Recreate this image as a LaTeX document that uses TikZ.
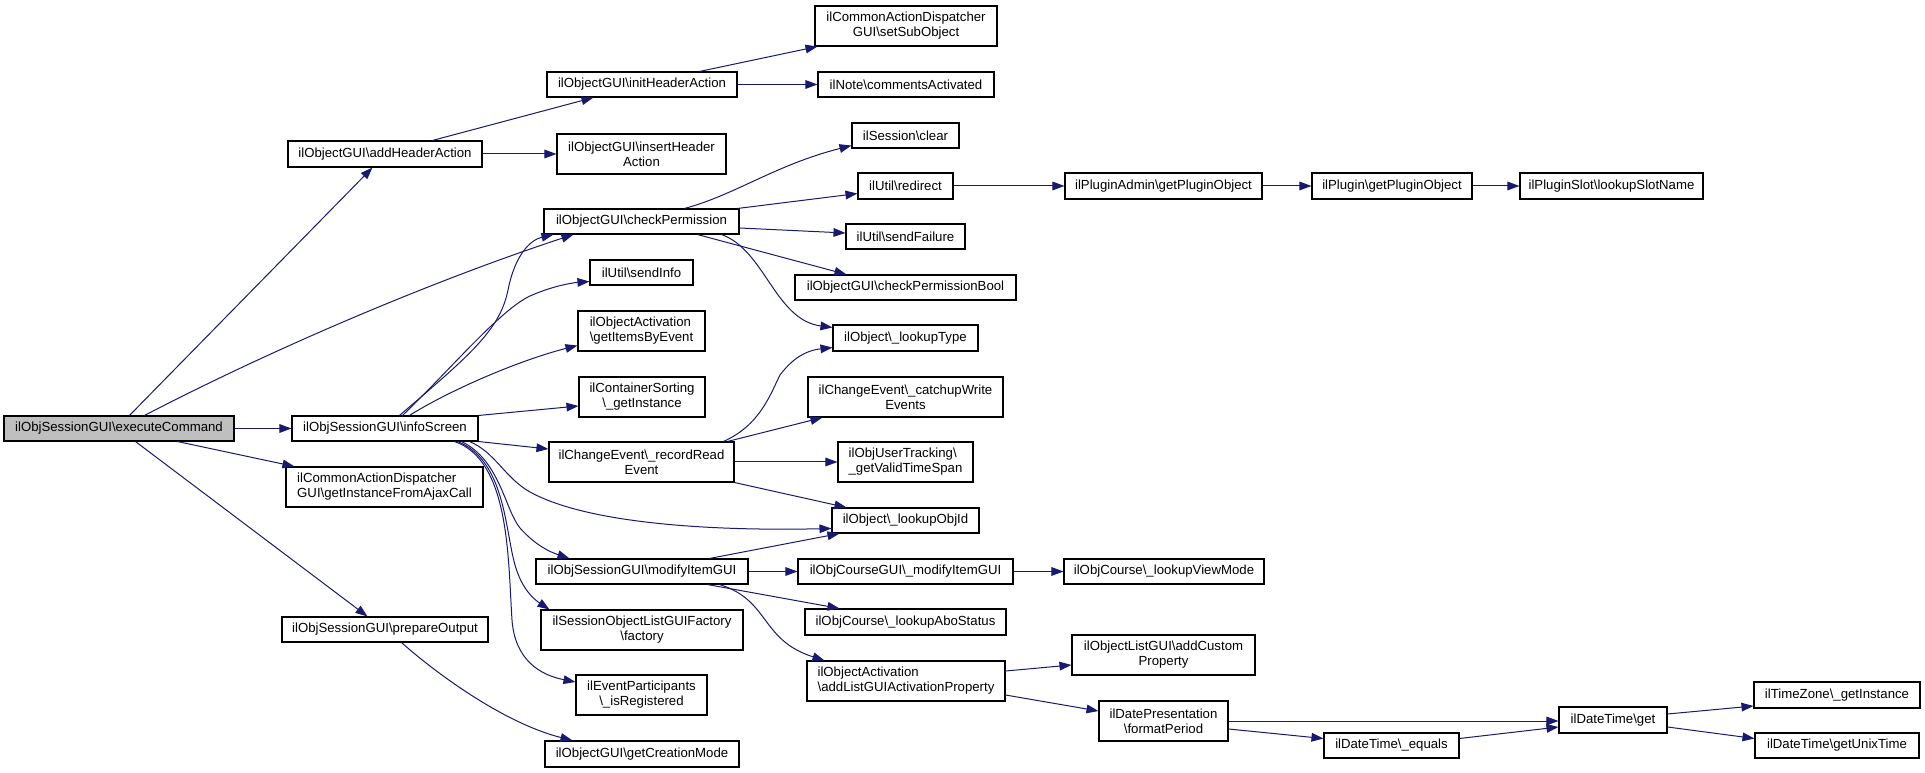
\documentclass[tikz,border=0pt]{standalone}
\usepackage{fontspec}
\setmainfont{Liberation Sans}
\usetikzlibrary{calc,arrows.meta}
\definecolor{edgeblue}{RGB}{25,25,112}
\definecolor{startgray}{RGB}{191,191,191}
\newcommand{\BSL}{\textbackslash{}}
\tikzset{
  box/.style={draw=black, line width=0.8pt, fill=white, inner sep=0pt, align=center,
    font=\fontsize{9.9pt}{11.3pt}\selectfont},
  sz/.style 2 args={minimum width=#1*0.75pt, minimum height=#2*0.75pt},
  call/.style={draw=edgeblue, line width=0.75pt, -{Triangle[length=9pt,width=6.5pt]}},
}
\begin{document}
\begin{tikzpicture}[x=0.75pt,y=-0.75pt]
\useasboundingbox (0,0) rectangle (1925,773);
% column 1
\node[box, sz={230}{25}, fill=startgray] (exec) at (119,428.5) {ilObjSessionGUI\BSL executeCommand};
% column 2
\node[box, sz={194}{26}] (addH) at (385,154) {ilObjectGUI\BSL addHeaderAction};
\node[box, sz={186}{25}] (info) at (385,428.5) {ilObjSessionGUI\BSL infoScreen};
\node[box, sz={197}{40}, align=left] (ajax) at (384.5,487) {ilCommonActionDispatcher\\GUI\BSL getInstanceFromAjaxCall};
\node[box, sz={206}{25}] (prep) at (385,629.5) {ilObjSessionGUI\BSL prepareOutput};
% column 3
\node[box, sz={190}{25}] (initH) at (642,84.5) {ilObjectGUI\BSL initHeaderAction};
\node[box, sz={169}{40}] (insH) at (641.5,154) {ilObjectGUI\BSL insertHeader\\Action};
\node[box, sz={195}{25}] (checkP) at (641.5,221.5) {ilObjectGUI\BSL checkPermission};
\node[box, sz={103}{25}] (sendInfo) at (641.5,272.5) {ilUtil\BSL sendInfo};
\node[box, sz={127}{40}, align=left] (items) at (641.5,331) {ilObjectActivation\\\BSL getItemsByEvent};
\node[box, sz={126}{40}] (contSort) at (642,397) {ilContainerSorting\\\BSL\_getInstance};
\node[box, sz={185}{40}] (record) at (641.5,462) {ilChangeEvent\BSL\_recordRead\\Event};
\node[box, sz={212}{25}] (modify) at (642,571.5) {ilObjSessionGUI\BSL modifyItemGUI};
\node[box, sz={202}{40}] (factory) at (642,630) {ilSessionObjectListGUIFactory\\\BSL factory};
\node[box, sz={131}{40}] (eventP) at (641.5,695) {ilEventParticipants\\\BSL\_isRegistered};
\node[box, sz={194}{26}] (getCreation) at (642,754) {ilObjectGUI\BSL getCreationMode};
% column 4
\node[box, sz={182}{40}] (setSub) at (906,26) {ilCommonActionDispatcher\\GUI\BSL setSubObject};
\node[box, sz={176}{25}] (comm) at (906,84.5) {ilNote\BSL commentsActivated};
\node[box, sz={107}{25}] (clear) at (905.5,135.5) {ilSession\BSL clear};
\node[box, sz={95}{26}] (redirect) at (905.5,186) {ilUtil\BSL redirect};
\node[box, sz={119}{25}] (sendFail) at (905.5,236.5) {ilUtil\BSL sendFailure};
\node[box, sz={221}{25}] (cpBool) at (905.5,287.5) {ilObjectGUI\BSL checkPermissionBool};
\node[box, sz={145}{26}] (lookupType) at (905.5,338) {ilObject\BSL\_lookupType};
\node[box, sz={195}{40}] (catchup) at (905.5,397) {ilChangeEvent\BSL\_catchupWrite\\Events};
\node[box, sz={135}{40}, align=left] (usertrack) at (905.5,462) {ilObjUserTracking\BSL\\\_getValidTimeSpan};
\node[box, sz={147}{25}] (objId) at (905.5,520.5) {ilObject\BSL\_lookupObjId};
\node[box, sz={215}{25}] (courseGUI) at (905.5,571.5) {ilObjCourseGUI\BSL\_modifyItemGUI};
\node[box, sz={201}{26}] (abo) at (905.5,622) {ilObjCourse\BSL\_lookupAboStatus};
\node[box, sz={198}{40}, align=left] (addList) at (906,681) {ilObjectActivation\\\BSL addListGUIActivationProperty};
% column 5
\node[box, sz={197}{26}] (pluginAdmin) at (1163.5,186) {ilPluginAdmin\BSL getPluginObject};
\node[box, sz={200}{25}] (viewMode) at (1164,571.5) {ilObjCourse\BSL\_lookupViewMode};
\node[box, sz={183}{40}] (addCustom) at (1163.5,655) {ilObjectListGUI\BSL addCustom\\Property};
\node[box, sz={129}{40}] (formatPeriod) at (1163.5,721) {ilDatePresentation\\\BSL formatPeriod};
% column 6
\node[box, sz={160}{26}] (plugin) at (1392,186) {ilPlugin\BSL getPluginObject};
\node[box, sz={135}{25}] (equals) at (1391.5,745.5) {ilDateTime\BSL\_equals};
% column 7
\node[box, sz={183}{26}] (pluginSlot) at (1611.5,186) {ilPluginSlot\BSL lookupSlotName};
\node[box, sz={108}{26}] (dtGet) at (1613,720) {ilDateTime\BSL get};
% column 8
\node[box, sz={166}{26}] (tz) at (1837,695) {ilTimeZone\BSL\_getInstance};
\node[box, sz={164}{25}] (unix) at (1837,745.5) {ilDateTime\BSL getUnixTime};

% ---- edges from executeCommand
\draw[call] ($(exec.north west)+(126,0)$) -- ($(addH.south west)+(85,0)$);
\draw[call] ($(exec.north west)+(141,0)$) .. controls (290,340) and (450,275) .. ($(checkP.south west)+(30,0)$);
\draw[call] (exec.east) -- (info.west);
\draw[call] ($(exec.south west)+(174,0)$) -- ($(ajax.north west)+(9,0)$);
\draw[call] ($(exec.south west)+(132,0)$) -- ($(prep.north west)+(86,0)$);
% ---- addHeaderAction / initHeaderAction
\draw[call] ($(addH.north west)+(145,0)$) -- ($(initH.south west)+(47,0)$);
\draw[call] (addH.east) -- (insH.west);
\draw[call] ($(initH.north west)+(153,0)$) -- ($(setSub.south west)+(3,0)$);
\draw[call] (initH.east) -- (comm.west);
% ---- checkPermission
\draw[call] ($(checkP.north west)+(141,0)$) .. controls (735,195) and (775,165) .. ($(clear.south west)+(0,-3)$);
\draw[call] ($(checkP.north east)+(-2,0)$) -- ($(redirect.south west)+(0,-6)$);
\draw[call] ($(checkP.east)+(0,6.5)$) -- ($(sendFail.west)+(0,-3.5)$);
\draw[call] ($(checkP.south west)+(154,0)$) -- ($(cpBool.north west)+(52,0)$);
\draw[call] ($(checkP.south west)+(178,0)$) .. controls (765,250) and (775,320) .. ($(lookupType.north west)+(0,3)$);
% ---- plugin chain
\draw[call] (redirect.east) -- (pluginAdmin.west);
\draw[call] (pluginAdmin.east) -- (plugin.west);
\draw[call] (plugin.east) -- (pluginSlot.west);
% ---- infoScreen
\draw[call] ($(info.north west)+(108,0)$) .. controls (470,355) and (500,330) .. (508,290)
   .. controls (515,255) and (530,240) .. ($(checkP.south west)+(10,0)$);
\draw[call] ($(info.north west)+(111,0)$) .. controls (450,370) and (500,310) .. (530,296)
   .. controls (550,287) and (570,283) .. ($(sendInfo.south west)+(0,-4)$);
\draw[call] ($(info.north west)+(118,0)$) .. controls (450,390) and (520,360) .. ($(items.south west)+(0,-6)$);
\draw[call] (info.north east) -- ($(contSort.west)+(0,9)$);
\draw[call] (info.south east) -- ($(record.west)+(0,-13)$);
\draw[call] ($(info.south west)+(178,0)$) .. controls (495,452) and (505,478) .. (530,492)
   .. controls (590,525) and (720,531) .. ($(objId.west)+(0,8)$);
\draw[call] ($(info.south west)+(170,0)$) .. controls (500,460) and (505,510) .. (520,528)
   .. controls (535,545) and (550,552) .. ($(modify.north west)+(34,0)$);
\draw[call] ($(info.south west)+(166,0)$) .. controls (505,460) and (505,530) .. (515,565)
   .. controls (522,590) and (535,600) .. ($(factory.north west)+(9,0)$);
\draw[call] ($(info.south west)+(163,0)$) .. controls (510,460) and (508,560) .. (512,620)
   .. controls (515,660) and (540,675) .. ($(eventP.west)+(0,-13)$);
% ---- recordReadEvent
\draw[call] ($(record.north east)+(-11,0)$) .. controls (760,425) and (770,395) .. (780,375)
   .. controls (795,355) and (810,350) .. ($(lookupType.south west)+(0,-4)$);
\draw[call] ($(record.north east)+(-7,0)$) -- ($(catchup.south west)+(15,0)$);
\draw[call] (record.east) -- (usertrack.west);
\draw[call] (record.south east) -- ($(objId.north west)+(15,0)$);
% ---- modifyItemGUI
\draw[call] ($(modify.north west)+(174,0)$) -- ($(objId.south west)+(8,0)$);
\draw[call] (modify.east) -- (courseGUI.west);
\draw[call] (courseGUI.east) -- (viewMode.west);
\draw[call] ($(modify.south west)+(172,0)$) -- ($(abo.north west)+(35,0)$);
\draw[call] ($(modify.south west)+(184,0)$) .. controls (770,600) and (760,640) .. ($(addList.north west)+(18,0)$);
% ---- addListGUIActivationProperty and dates
\draw[call] ($(addList.east)+(0,-10)$) -- ($(addCustom.west)+(0,10)$);
\draw[call] ($(addList.east)+(0,14)$) -- ($(formatPeriod.west)+(0,-10)$);
\draw[call] (formatPeriod.east) -- (formatPeriod.east -| dtGet.west);
\draw[call] ($(formatPeriod.east)+(0,8)$) -- ($(equals.west)+(0,-7)$);
\draw[call] ($(equals.east)+(0,-7)$) -- ($(dtGet.west)+(0,7)$);
\draw[call] ($(dtGet.east)+(0,-6)$) -- ($(tz.west)+(0,11)$);
\draw[call] ($(dtGet.east)+(0,7)$) -- ($(unix.west)+(0,-7)$);
% ---- prepareOutput
\draw[call] ($(prep.south west)+(120,0)$) .. controls (430,668) and (500,722) .. ($(getCreation.north west)+(28,0)$);
\end{tikzpicture}
\end{document}
